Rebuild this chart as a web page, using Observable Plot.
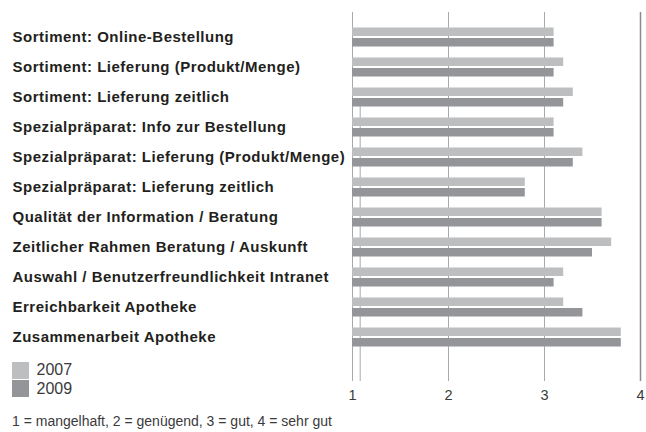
<!DOCTYPE html>
<html>
<head>
<meta charset="utf-8">
<script src="https://cdn.jsdelivr.net/npm/d3@7"></script>
<script src="https://cdn.jsdelivr.net/npm/@observablehq/plot@0.6"></script>
<style>
  html, body { margin: 0; padding: 0; background: #fff; }
  #wrap { position: relative; width: 646px; height: 432px; overflow: hidden; font-family: "Liberation Sans", Arial, sans-serif; }
  #legend { position: absolute; left: 12px; top: 362px; font-size: 16px; color: #3a3a3c; }
  .li { display: flex; align-items: center; height: 16.6px; margin-bottom: 1.7px; }
  .sw { width: 17px; height: 16.6px; margin-right: 7.5px; }
  #caption { position: absolute; left: 12px; top: 413px; font-size: 14px; line-height: 16px; color: #3a3a3c; white-space: nowrap; }
</style>
</head>
<body>
<div id="wrap"></div>
<script>
const categories = [
  "Sortiment: Online-Bestellung",
  "Sortiment: Lieferung (Produkt/Menge)",
  "Sortiment: Lieferung zeitlich",
  "Spezialpräparat: Info zur Bestellung",
  "Spezialpräparat: Lieferung (Produkt/Menge)",
  "Spezialpräparat: Lieferung zeitlich",
  "Qualität der Information / Beratung",
  "Zeitlicher Rahmen Beratung / Auskunft",
  "Auswahl / Benutzerfreundlichkeit Intranet",
  "Erreichbarkeit Apotheke",
  "Zusammenarbeit Apotheke"
];
const values2007 = [3.1, 3.2, 3.3, 3.1, 3.4, 2.8, 3.6, 3.7, 3.2, 3.2, 3.8];
const values2009 = [3.1, 3.1, 3.2, 3.1, 3.3, 2.8, 3.6, 3.5, 3.1, 3.4, 3.8];
const years = ["2007", "2009"];
const yearColors = ["#bcbec0", "#939598"];
const xTicks = [1, 2, 3, 4];
const extraGridValue = [1.08];
const captionText = "1 = mangelhaft, 2 = genügend, 3 = gut, 4 = sehr gut";

const d07 = categories.map((c, i) => ({cat: c, value: values2007[i]}));
const d09 = categories.map((c, i) => ({cat: c, value: values2009[i]}));

const chart = Plot.plot({
  width: 646,
  height: 432,
  marginLeft: 352,
  marginRight: 6,
  marginTop: 18,
  marginBottom: 76,
  style: {fontFamily: "'Liberation Sans', Arial, sans-serif", background: "#fff"},
  x: {domain: [1, 4], ticks: xTicks, label: null},
  y: {domain: categories, padding: 0, axis: null},
  marks: [
    Plot.ruleX(xTicks.slice(0, 3), {stroke: "#a7a9ac", strokeWidth: 1, insetTop: -6, insetBottom: -25}),
    Plot.ruleX(xTicks.slice(3), {stroke: "#8a8c8e", strokeWidth: 1.5, insetTop: -6, insetBottom: -25}),
    Plot.ruleX(extraGridValue, {stroke: "#a7a9ac", strokeWidth: 1, insetTop: 87, insetBottom: -25}),
    Plot.barX(d07, {x1: 1, x2: "value", y: "cat", fill: yearColors[0], insetTop: 5.5, insetBottom: 16}),
    Plot.barX(d09, {x1: 1, x2: "value", y: "cat", fill: yearColors[1], insetTop: 16, insetBottom: 5.5}),
    Plot.text(categories, {y: d => d, frameAnchor: "left", textAnchor: "start", dx: -340, fontWeight: "bold", fontSize: 15, fill: "#231f20"}),
    Plot.axisX(xTicks, {tickSize: 0, tickPadding: 33, fontSize: 14.5, fill: "#3a3a3c", tickFormat: d => String(d), label: null})
  ]
});
const wrap = document.getElementById("wrap");
wrap.appendChild(chart);
wrap.querySelectorAll("svg g[font-weight='bold'] text, svg text[font-weight='bold']").forEach(t => {
  t.style.letterSpacing = "0.5px";
});

const legend = document.createElement("div");
legend.id = "legend";
years.forEach((y, i) => {
  const row = document.createElement("div");
  row.className = "li";
  const sw = document.createElement("div");
  sw.className = "sw";
  sw.style.background = yearColors[i];
  const t = document.createElement("span");
  t.textContent = y;
  row.appendChild(sw); row.appendChild(t);
  legend.appendChild(row);
});
wrap.appendChild(legend);
const cap = document.createElement("div");
cap.id = "caption";
cap.textContent = captionText;
wrap.appendChild(cap);
</script>
</body>
</html>
